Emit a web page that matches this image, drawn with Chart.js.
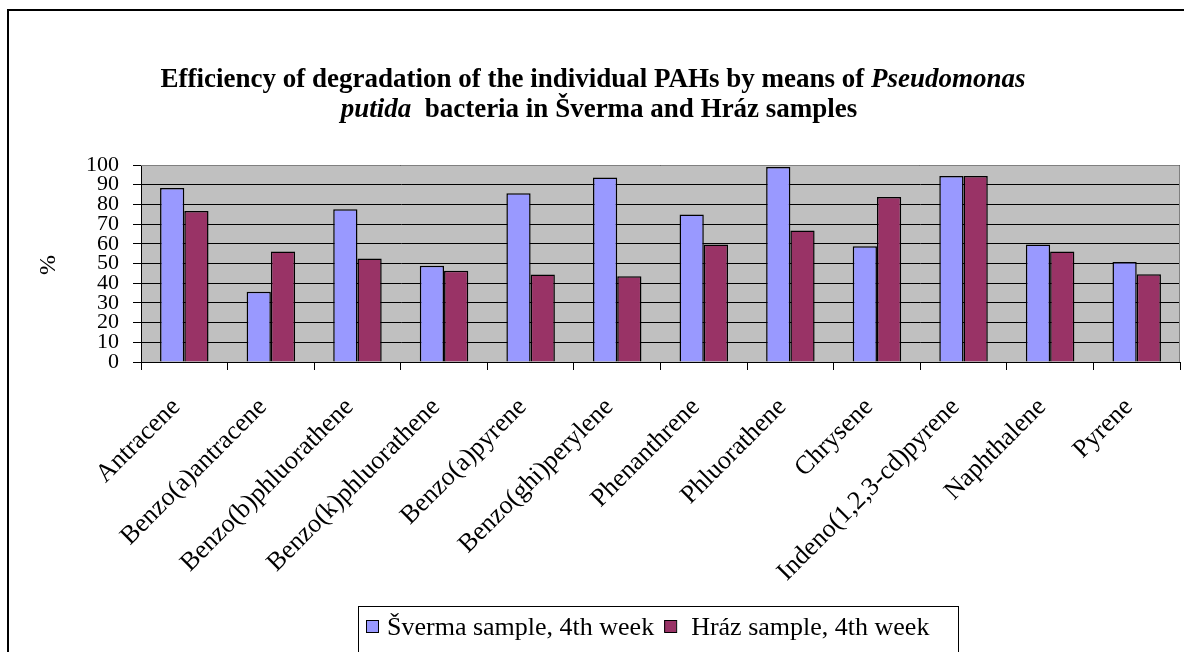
<!DOCTYPE html>
<html><head><meta charset="utf-8">
<script src="https://cdn.jsdelivr.net/npm/chart.js@4/dist/chart.umd.min.js"></script>
<style>html,body{margin:0;padding:0;background:#fff;overflow:hidden}#wrap{width:1184px;height:652px;position:relative}</style>
</head><body><div id="wrap"><canvas id="c" width="1184" height="652"></canvas></div>
<script>
const categories = ['Antracene','Benzo(a)antracene','Benzo(b)phluorathene','Benzo(k)phluorathene','Benzo(a)pyrene','Benzo(ghi)perylene','Phenanthrene','Phluorathene','Chrysene','Indeno(1,2,3-cd)pyrene','Naphthalene','Pyrene'];
const svermaValues = [88.3, 35.6, 77.6, 48.8, 85.6, 93.6, 74.9, 99.0, 58.8, 94.4, 59.7, 50.7];
const hrazValues = [76.6, 56.1, 52.5, 46.3, 44.4, 43.5, 59.7, 66.8, 83.7, 94.4, 56.1, 44.6];
const seriesLabels = ['Šverma sample, 4th week', 'Hráz sample, 4th week'];
const seriesColors = ['#9999FF', '#993366'];
const yMin = 0, yMax = 100, yStep = 10;
const yAxisTitle = '%';
const titleLines = [
  [{t:'Efficiency of degradation of the individual PAHs by means of ', i:false},{t:'Pseudomonas', i:true}],
  [{t:'putida', i:true},{t:'  bacteria in Šverma and Hráz samples', i:false}]
];

const SERIF = '"Liberation Serif", "Times New Roman", serif';

const decor = {
  id: 'decor',
  beforeDraw(chart) {
    const ctx = chart.ctx, a = chart.chartArea;
    ctx.save();
    ctx.fillStyle = '#fff';
    ctx.fillRect(0, 0, chart.width, chart.height);
    ctx.fillStyle = '#C0C0C0';
    ctx.fillRect(a.left, a.top, a.right - a.left, a.bottom - a.top);
    ctx.restore();
  },
  afterDraw(chart) {
    const ctx = chart.ctx, a = chart.chartArea;
    ctx.save();
    // plot border top/right
    ctx.strokeStyle = '#808080'; ctx.lineWidth = 1;
    ctx.beginPath();
    ctx.moveTo(a.left, a.top + 0.5); ctx.lineTo(a.right - 0.5, a.top + 0.5); ctx.lineTo(a.right - 0.5, a.bottom);
    ctx.stroke();
    // outer frame
    ctx.strokeStyle = '#000'; ctx.lineWidth = 2;
    ctx.strokeRect(8, 10, 1200, 700);
    // title
    ctx.fillStyle = '#000'; ctx.textBaseline = 'alphabetic';
    const fs = 27;
    const baselines = [87, 117];
    const centers = [593, 599];
    titleLines.forEach((segs, li) => {
      let w = 0;
      segs.forEach(s => { ctx.font = (s.i ? 'italic ' : '') + 'bold ' + fs + 'px ' + SERIF; w += ctx.measureText(s.t).width; });
      let x = centers[li] - w / 2;
      segs.forEach(s => { ctx.font = (s.i ? 'italic ' : '') + 'bold ' + fs + 'px ' + SERIF; ctx.textAlign = 'left'; ctx.fillText(s.t, x, baselines[li]); x += ctx.measureText(s.t).width; });
    });
    // y axis title
    ctx.save();
    ctx.translate(49, 265); ctx.rotate(-Math.PI / 2);
    ctx.font = '24px ' + SERIF; ctx.textAlign = 'center'; ctx.textBaseline = 'middle';
    ctx.fillText(yAxisTitle, 0, 0);
    ctx.restore();
    // legend
    const lx = 358, ly = 606, lw = 600, lh = 60;
    ctx.strokeStyle = '#000'; ctx.lineWidth = 1;
    ctx.strokeRect(lx + 0.5, ly + 0.5, lw, lh);
    ctx.font = '26px ' + SERIF; ctx.textAlign = 'left'; ctx.textBaseline = 'middle';
    let x = 366;
    chart.data.datasets.forEach((ds, i) => {
      ctx.fillStyle = ds.backgroundColor;
      ctx.fillRect(x, 620, 12, 12);
      ctx.strokeStyle = '#000'; ctx.strokeRect(x + 0.5, 620.5, 12, 12);
      ctx.fillStyle = '#000';
      const tx = x + (i === 0 ? 21 : 27);
      ctx.fillText(ds.label, tx, 628);
      x = tx + ctx.measureText(ds.label).width + 10;
    });
    ctx.restore();
  }
};

new Chart(document.getElementById('c'), {
  type: 'bar',
  data: {
    labels: categories,
    datasets: [
      { label: seriesLabels[0], data: svermaValues, backgroundColor: seriesColors[0], borderColor: '#000', borderWidth: 1.5, categoryPercentage: 0.56, barPercentage: 1 },
      { label: seriesLabels[1], data: hrazValues, backgroundColor: seriesColors[1], borderColor: '#000', borderWidth: 1.5, categoryPercentage: 0.56, barPercentage: 1 }
    ]
  },
  options: {
    responsive: false, animation: false, devicePixelRatio: 1,
    layout: { padding: { top: 165, right: 4, left: 0, bottom: 0 } },
    plugins: { legend: { display: false }, title: { display: false }, tooltip: { enabled: false } },
    scales: {
      y: {
        min: yMin, max: yMax,
        afterFit(s) { s.width = 141; },
        ticks: { stepSize: yStep, autoSkip: false, color: '#000', font: { family: SERIF, size: 22 }, padding: 14 },
        grid: { color: '#000', lineWidth: 1, tickLength: 8 },
        border: { display: true, color: '#000', width: 1 }
      },
      x: {
        afterFit(s) { s.height = 290; },
        ticks: { autoSkip: false, maxRotation: 45, minRotation: 45, color: '#000', font: { family: SERIF, size: 26 }, padding: 22, labelOffset: -8 },
        grid: { drawOnChartArea: false, drawTicks: true, tickLength: 8, color: '#000', offset: true },
        border: { display: true, color: '#000', width: 1 }
      }
    }
  },
  plugins: [decor]
});
</script>
</body></html>
